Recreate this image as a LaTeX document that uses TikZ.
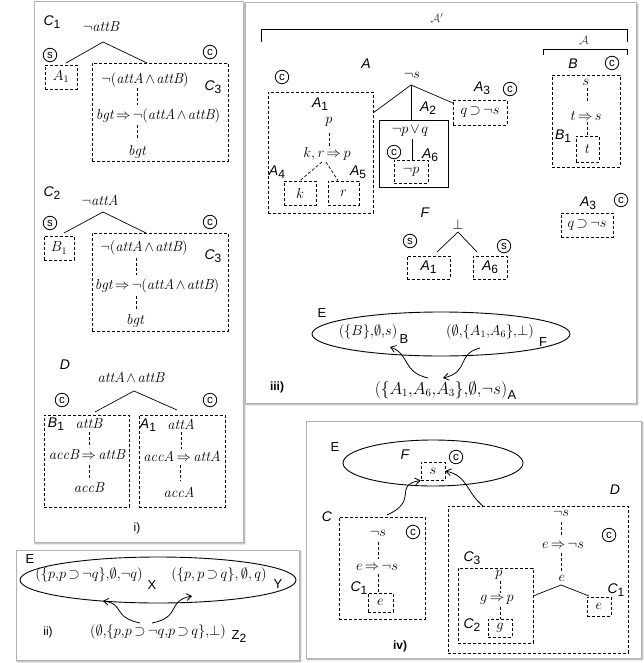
\documentclass[tikz,border=0pt]{standalone}
\usepackage{fontspec}
\setsansfont{Liberation Sans}
\usetikzlibrary{shapes.geometric,arrows.meta,shadows.blur}
\newcommand{\lb}[2]{{\sffamily\fontsize{14}{14}\selectfont\itshape #1\upshape\raisebox{-3pt}{\fontsize{12}{12}\selectfont #2}}}
\newcommand{\il}[1]{{\sffamily\fontsize{14}{14}\selectfont\itshape #1}}
\newcommand{\tightmath}{\medmuskip=2mu\thickmuskip=3mu}
\tikzset{
  panel/.style={draw=black!30, line width=1pt, fill=white, blur shadow={shadow xshift=1.5pt, shadow yshift=-1.5pt, shadow blur steps=6, shadow opacity=40}},
  dbox/.style={draw, line width=0.7pt, dash pattern=on 3pt off 2pt, inner sep=0pt, font=\fontsize{14.5}{17}\selectfont\tightmath},
  sbox/.style={draw, line width=0.9pt, inner sep=0pt},
  circ/.style={circle, draw, line width=0.8pt, minimum size=13.5pt, inner sep=0pt, font=\sffamily\fontsize{11.5}{11.5}\selectfont},
  txt/.style={inner sep=0pt},
  mt/.style={inner sep=0pt, font=\fontsize{14.5}{17}\selectfont\tightmath},
  et/.style={inner sep=0pt, font=\fontsize{15}{17}\selectfont\tightmath},
  up/.style={inner sep=0pt, font=\sffamily\fontsize{13}{13}\selectfont},
  bd/.style={inner sep=0pt, font=\sffamily\bfseries\fontsize{12}{12}\selectfont},
  tline/.style={line width=0.7pt},
  dline/.style={line width=0.7pt, dash pattern=on 3pt off 2pt},
  arr/.style={line width=0.8pt, -{Straight Barb[length=5pt,width=7pt]}},
  ell/.style={ellipse, draw, line width=0.9pt, inner sep=0pt},
}
\begin{document}
\begin{tikzpicture}[x=1pt,y=-1pt]
\useasboundingbox (0,0) rectangle (644,663);
% ---------- panels
\draw[panel] (34,2) rectangle (243,542);
\draw[panel] (16,550) rectangle (299,660);
\draw[panel] (245,3) rectangle (636,403);
\draw[panel] (306,421) rectangle (641,658);

% ================= panel i
% C1
\node[txt] (c1lab) at (52,22) {\lb{C}{1}};
\node[mt] (c1t) at (101,27) {$\neg\mathit{attB}$};
\coordinate (c1ap) at (103,42);
\coordinate (c1lf) at (66,63);
\coordinate (c1rt) at (147,63);
\node[circ] (c1s) at (50,55) {s};
\node[circ] (c1c) at (210,52) {c};
\node[dbox, minimum width=32pt, minimum height=24pt] (c1a) at (61,77) {$A_1$};
\node[dbox, minimum width=136pt, minimum height=98pt] (c1b) at (160,112) {};
\draw[tline] (c1lf) -- (c1ap) -- (c1rt);
\node[mt] (c1x) at (145,80) {$\neg(\mathit{attA}\wedge\mathit{attB})$};
\node[txt] (c1C3) at (213,87) {\lb{C}{3}};
\node[mt] (c1y) at (158,116) {$\mathit{bgt}\Rightarrow\neg(\mathit{attA}\wedge\mathit{attB})$};
\node[mt] (c1z) at (137,152) {$\mathit{bgt}$};
\coordinate (c1v1) at (137,88); \coordinate (c1v2) at (137,105);
\coordinate (c1v3) at (137,125); \coordinate (c1v4) at (137,140);
\draw[dline] (c1v1) -- (c1v2);
\draw[dline] (c1v3) -- (c1v4);
% C2
\node[txt] (c2lab) at (52,193) {\lb{C}{2}};
\node[mt] (c2t) at (100,200) {$\neg\mathit{attA}$};
\coordinate (c2ap) at (103,212);
\coordinate (c2lf) at (64,233);
\coordinate (c2rt) at (146,233);
\node[circ] (c2s) at (50,223) {s};
\node[circ] (c2c) at (210,222) {c};
\node[dbox, minimum width=30pt, minimum height=24pt] (c2a) at (59,248) {$B_1$};
\node[dbox, minimum width=136pt, minimum height=98pt] (c2b) at (160,282) {};
\draw[tline] (c2lf) -- (c2ap) -- (c2rt);
\node[mt] (c2x) at (144,248) {$\neg(\mathit{attA}\wedge\mathit{attB})$};
\node[txt] (c2C3) at (213,256) {\lb{C}{3}};
\node[mt] (c2y) at (157,286) {$\mathit{bgt}\Rightarrow\neg(\mathit{attA}\wedge\mathit{attB})$};
\node[mt] (c2z) at (135,321) {$\mathit{bgt}$};
\coordinate (c2v1) at (136,258); \coordinate (c2v2) at (136,275);
\coordinate (c2v3) at (136,296); \coordinate (c2v4) at (136,310);
\draw[dline] (c2v1) -- (c2v2);
\draw[dline] (c2v3) -- (c2v4);
% D
\node[txt] (dlab) at (65,365) {\il{D}};
\node[mt] (dt) at (131,377) {$\mathit{attA}\wedge\mathit{attB}$};
\coordinate (dap) at (134,391);
\coordinate (dlf) at (95,412);
\coordinate (drt) at (177,410);
\draw[tline] (dlf) -- (dap) -- (drt);
\node[circ] (dc1) at (62,400) {c};
\node[circ] (dc2) at (210,400) {c};
\node[dbox, minimum width=85pt, minimum height=92pt] (dB) at (86.5,461) {};
\node[dbox, minimum width=86pt, minimum height=92pt] (dA) at (182,461) {};
\node[txt] (dB1) at (56,424) {\lb{B}{1}};
\node[mt] (dBt) at (89,424) {$\mathit{attB}$};
\node[mt] (dBi) at (87,455) {$\mathit{accB}\Rightarrow\mathit{attB}$};
\node[mt] (dBa) at (89,488) {$\mathit{accB}$};
\coordinate (dbv1) at (89,432); \coordinate (dbv2) at (89,447);
\coordinate (dbv3) at (89,465); \coordinate (dbv4) at (89,480);
\draw[dline] (dbv1) -- (dbv2);
\draw[dline] (dbv3) -- (dbv4);
\node[txt] (dA1) at (148,425) {\lb{A}{1}};
\node[mt] (dAt) at (181,424) {$\mathit{attA}$};
\node[mt] (dAi) at (182,456) {$\mathit{accA}\Rightarrow\mathit{attA}$};
\node[mt] (dAa) at (179,492) {$\mathit{accA}$};
\coordinate (dav1) at (181,432); \coordinate (dav2) at (181,449);
\coordinate (dav3) at (180,465); \coordinate (dav4) at (180,481);
\draw[dline] (dav1) -- (dav2);
\draw[dline] (dav3) -- (dav4);
\node[txt, font=\sffamily\fontsize{12}{12}\selectfont] (ilab) at (137,528) {i)};

% ================= panel ii
\node[up] (iiE) at (30,559) {E};
\node[ell, minimum width=276pt, minimum height=46pt] (iiell) at (158,580) {};
\node[et] (iiX) at (89,575) {$(\{p{,}p\supset\neg q\}{,}\emptyset{,}\neg q)$};
\node[up] (iiXs) at (152,585) {X};
\node[et] (iiY) at (219,575) {$(\{p{,}\,p\supset q\}{,}\,\emptyset{,}\,q)$};
\node[up] (iiYs) at (278,584) {Y};
\node[et] (iiZ) at (158,632) {$(\emptyset{,}\{p{,}p\supset\neg q{,}p\supset q\}{,}\bot)$};
\node[up] (iiZs) at (239,637) {Z\raisebox{-3pt}{\fontsize{12}{12}\selectfont 2}};
\node[txt, font=\sffamily\fontsize{12}{12}\selectfont] (iilab) at (48,632) {ii)};
\coordinate (iia1) at (140,623); \coordinate (iia2) at (103,601);
\coordinate (iib1) at (152,623); \coordinate (iib2) at (192,596);
\draw[arr] (iia1) .. controls (112,617) and (125,604) .. (iia2);
\draw[arr] (iib1) .. controls (182,617) and (166,601) .. (iib2);

% ================= panel iii
\coordinate (brL) at (261,42); \coordinate (brLt) at (261,29);
\coordinate (brRt) at (627,29); \coordinate (brR) at (627,42);
\draw[tline] (brL) -- (brLt) -- (brRt) -- (brR);
\node[txt, text=black!70, font=\fontsize{13}{13}\selectfont] (apr) at (437,18) {$\mathcal{A}'$};
\coordinate (bsL) at (543,55); \coordinate (bsLt) at (543,49);
\coordinate (bsRt) at (627,49); \coordinate (bsR) at (627,55);
\draw[tline] (bsL) -- (bsLt) -- (bsRt) -- (bsR);
\node[txt, text=black!70, font=\fontsize{13}{13}\selectfont] (ascr) at (584,40) {$\mathcal{A}$};
% A
\node[txt] (Alab) at (366,64) {\il{A}};
\node[circ] (Ac) at (282,77) {c};
\node[dbox, minimum width=105pt, minimum height=121pt] (A1box) at (320.5,152.5) {};
\node[txt] (A1lab) at (320,104) {\lb{A}{1}};
\node[mt] (A1p) at (329,122) {$p$};
\node[mt] (A1r) at (327,154) {$k,r\Rightarrow p$};
\coordinate (a1v1) at (329,133); \coordinate (a1v2) at (329,148);
\draw[dline] (a1v1) -- (a1v2);
\node[txt] (A4lab) at (277,172) {\lb{A}{4}};
\node[txt] (A5lab) at (358,172) {\lb{A}{5}};
\node[dbox, minimum width=32pt, minimum height=24pt] (kbox) at (300,193) {$k$};
\node[dbox, minimum width=31pt, minimum height=24pt] (rbox) at (343.5,193) {$r$};
\coordinate (a1d1) at (322,162); \coordinate (a1d2) at (326,162);
\draw[dline] (a1d1) -- (kbox.north);
\draw[dline] (a1d2) -- (rbox.north west -| 338,0);
\node[mt] (ns) at (412,75) {$\neg s$};
\coordinate (nsap) at (411,85);
\coordinate (nsl) at (373,113);
\coordinate (nsr) at (453,103);
\node[sbox, minimum width=69pt, minimum height=67pt] (A2box) at (413.5,153.5) {};
\draw[tline] (nsl) -- (nsap) -- (nsr);
\draw[tline] (nsap) -- (A2box.north -| nsap);
\node[txt] (A2lab) at (428,108) {\lb{A}{2}};
\node[mt] (pvq) at (410,131) {$\neg p\vee q$};
\node[dbox, minimum width=34pt, minimum height=23pt] (npbox) at (411,171.5) {$\neg p$};
\coordinate (pvqd) at (412,139);
\draw[tline] (pvqd) -- (npbox.north -| pvqd);
\node[circ, fill=white] (A6c) at (394,152) {c};
\node[txt] (A6lab) at (430,155) {\lb{A}{6}};
\node[txt] (A3lab) at (482,88) {\lb{A}{3}};
\node[circ] (A3c) at (510,89) {c};
\node[dbox, minimum width=54pt, minimum height=25pt] (A3box) at (480,112.5) {$q\supset\neg s$};
% B
\node[txt] (Blab) at (573,64) {\il{B}};
\node[circ] (Bc) at (612,63) {c};
\node[dbox, minimum width=68pt, minimum height=92pt] (Bbox) at (586,121) {};
\node[mt] (Bs) at (586,82) {$s$};
\node[mt] (Bts) at (586,116) {$t\Rightarrow s$};
\coordinate (bv1) at (587,88); \coordinate (bv2) at (587,103);
\coordinate (bv3) at (587,122); \coordinate (bv4) at (587,136);
\draw[dline] (bv1) -- (bv2);
\draw[dline] (bv3) -- (bv4);
\node[txt] (B1lab) at (563,136) {\lb{B}{1}};
\node[dbox, minimum width=23pt, minimum height=26pt] (tbox) at (587.5,149) {$t$};
% A3 second
\node[txt] (A3blab) at (588,203) {\lb{A}{3}};
\node[circ] (A3bc) at (621,200) {c};
\node[dbox, minimum width=52pt, minimum height=24pt] (A3bbox) at (587,225) {$q\supset\neg s$};
% F
\node[txt] (Flab) at (425,213) {\il{F}};
\node[mt] (Fbot) at (458,224) {$\bot$};
\coordinate (Fap) at (458,232);
\coordinate (Fl) at (437,252); \coordinate (Fr) at (477,252);
\draw[tline] (Fl) -- (Fap) -- (Fr);
\node[circ] (Fs1) at (410,241) {s};
\node[circ] (Fs2) at (504,246) {s};
\node[dbox, minimum width=43pt, minimum height=23pt] (FA1) at (428.5,267.5) {\lb{A}{1}};
\node[dbox, minimum width=34pt, minimum height=23pt] (FA6) at (490,267.5) {\lb{A}{6}};
% E
\node[up] (iiiE) at (322,313) {E};
\node[ell, minimum width=258pt, minimum height=44pt] (iiiell) at (441,334) {};
\node[et, font=\fontsize{13.5}{16}\selectfont\tightmath] (eB) at (368,332) {$(\{B\}{,}\emptyset{,}s)$};
\node[up] (eBs) at (404,339) {B};
\node[et, font=\fontsize{14.5}{17}\selectfont\tightmath] (eF) at (490,332) {$(\emptyset{,}\{A_1{,}A_6\}{,}\bot)$};
\node[up] (eFs) at (543,342) {F};
\node[et, font=\fontsize{16}{18}\selectfont\tightmath] (eA) at (441,390) {$(\{A_1{,}A_6{,}A_3\}{,}\emptyset{,}\neg s)$};
\node[up] (eAs) at (512,395) {A};
\node[bd] (iiilab) at (277,387) {iii)};
\coordinate (ea1) at (428,378); \coordinate (ea2) at (390,347);
\coordinate (eb1) at (480,348); \coordinate (eb2) at (443,378);
\draw[arr] (ea1) .. controls (402,372) and (410,354) .. (ea2);
\draw[arr] (eb1) .. controls (456,354) and (470,372) .. (eb2);

% ================= panel iv
\node[up] (ivE) at (335,447) {E};
\node[ell, minimum width=180pt, minimum height=46pt] (ivell) at (433,463) {};
\node[txt] (ivF) at (405,455) {\il{F}};
\node[circ] (ivFc) at (456,457) {c};
\node[dbox, minimum width=24pt, minimum height=18pt] (ivs) at (433,471) {$s$};
\node[txt] (ivD) at (615,490) {\il{D}};
\node[txt] (ivC) at (327,517) {\il{C}};
\node[dbox, minimum width=86pt, minimum height=102pt] (Cbox) at (382,568) {};
\node[mt] (Cns) at (378,533) {$\neg s$};
\node[mt] (Ces) at (377,567) {$e\Rightarrow\neg s$};
\coordinate (cv1) at (378,542); \coordinate (cv2) at (378,559);
\coordinate (cv3) at (378,574); \coordinate (cv4) at (378,593);
\draw[dline] (cv1) -- (cv2);
\draw[dline] (cv3) -- (cv4);
\node[txt] (CC1) at (359,588) {\lb{C}{1}};
\node[dbox, minimum width=25pt, minimum height=19pt] (Cebox) at (380.5,602.5) {$e$};
\node[circ] (Cc) at (413,532) {c};
\node[bd] (ivlab) at (400,646) {iv)};
\node[dbox, minimum width=180pt, minimum height=147pt] (Dbox) at (538,579.5) {};
\node[mt] (Dns) at (561,513) {$\neg s$};
\node[mt] (Des) at (563,545) {$e\Rightarrow\neg s$};
\node[mt] (De) at (562,578) {$e$};
\coordinate (dv1) at (561,522); \coordinate (dv2) at (561,537);
\coordinate (dv3) at (561,553); \coordinate (dv4) at (561,572);
\draw[dline] (dv1) -- (dv2);
\draw[dline] (dv3) -- (dv4);
\coordinate (Dap) at (561,585);
\coordinate (Dl) at (533,596); \coordinate (Dr) at (589,596);
\draw[tline] (Dl) -- (Dap) -- (Dr);
\node[circ] (Dc) at (609,535) {c};
\node[txt] (DC1) at (616,590) {\lb{C}{1}};
\node[dbox, minimum width=24pt, minimum height=19pt] (Debox) at (599,606.5) {$e$};
\node[txt] (DC3) at (472,558) {\lb{C}{3}};
\node[dbox, minimum width=75pt, minimum height=75pt] (C3box) at (495.5,605.5) {};
\node[mt] (C3p) at (499,575) {$p$};
\node[mt] (C3g) at (497,600) {$g\Rightarrow p$};
\coordinate (gv1) at (500,581); \coordinate (gv2) at (500,593);
\coordinate (gv3) at (500,607); \coordinate (gv4) at (500,619);
\draw[dline] (gv1) -- (gv2);
\draw[dline] (gv3) -- (gv4);
\node[txt] (DC2) at (472,625) {\lb{C}{2}};
\node[dbox, minimum width=24pt, minimum height=18pt] (gbox) at (500,628) {$g$};
% arrows iv
\coordinate (ivc1) at (387,515);
\coordinate (ivd1) at (483,506);
\draw[arr] (ivc1) .. controls (420,500) and (392,486) .. (ivs.south west);
\draw[arr] (ivd1) .. controls (466,492) and (468,476) .. (ivs.east);
\end{tikzpicture}
\end{document}
